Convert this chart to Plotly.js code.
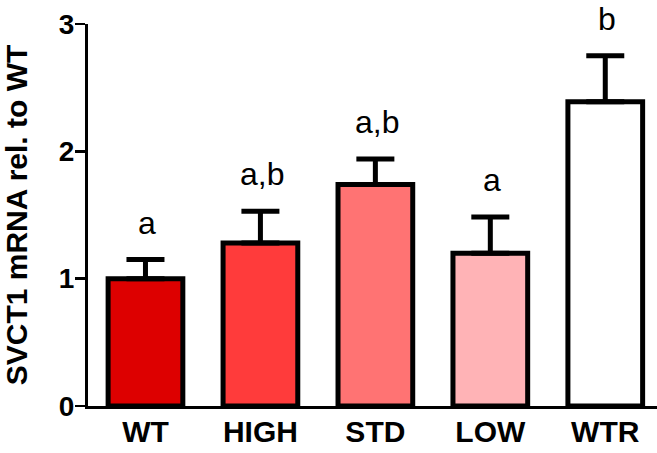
<!DOCTYPE html>
<html>
<head>
<meta charset="utf-8">
<script src="https://cdn.plot.ly/plotly-3.0.1.min.js"></script>
<style>html,body{margin:0;padding:0;background:#fff;}#chart{width:657px;height:453px;}</style>
</head>
<body>
<div id="chart"></div>
<script>
const categories = ["WT", "HIGH", "STD", "LOW", "WTR"];
const values = [1.0, 1.28, 1.74, 1.2, 2.39];
const errors = [0.15, 0.25, 0.2, 0.285, 0.36];
const letters = ["a", "a,b", "a,b", "a", "b"];
const colors = ["#dd0000", "#ff3b3b", "#ff7373", "#ffb3b6", "#ffffff"];

const FONT = "Liberation Sans, Arial, sans-serif";

const trace = {
  type: "bar",
  x: categories,
  y: values,
  width: 0.65,
  marker: { color: colors, line: { color: "#000", width: 5 } },
  error_y: {
    type: "data",
    array: errors,
    arrayminus: values.map(() => 0),
    symmetric: false,
    color: "#000",
    thickness: 5,
    width: 19
  },
  hoverinfo: "none"
};

const annotations = categories.map((c, i) => ({
  x: c, y: values[i] + errors[i], xref: "x", yref: "y",
  text: letters[i], showarrow: false, yshift: 37, xshift: 2, yanchor: "middle",
  font: { family: FONT, size: 32, color: "#000" }
}));

const layout = {
  width: 657, height: 453,
  margin: { l: 88, r: 0, t: 24, b: 47, pad: 0 },
  paper_bgcolor: "#fff", plot_bgcolor: "#fff",
  showlegend: false,
  font: { family: FONT, color: "#000" },
  xaxis: {
    range: [-0.5, 4.45],
    showline: true, linecolor: "#000", linewidth: 3,
    ticks: "", showgrid: false, zeroline: false,
    ticklabelstandoff: -3,
    tickfont: { size: 30, weight: "bold", color: "#000" }
  },
  yaxis: {
    range: [0, 3], tickvals: [0, 1, 2, 3],
    showline: true, linecolor: "#000", linewidth: 3,
    ticks: "outside", ticklen: 10, tickwidth: 2.5, tickcolor: "#000",
    ticklabelstandoff: -5,
    showgrid: false, zeroline: false,
    tickfont: { size: 28, weight: "bold", color: "#000" },
    title: { text: "SVCT1 mRNA rel. to WT", font: { size: 30, weight: "bold", color: "#000" } }
  },
  annotations: annotations
};

Plotly.newPlot("chart", [trace], layout, { staticPlot: true });
</script>
</body>
</html>
